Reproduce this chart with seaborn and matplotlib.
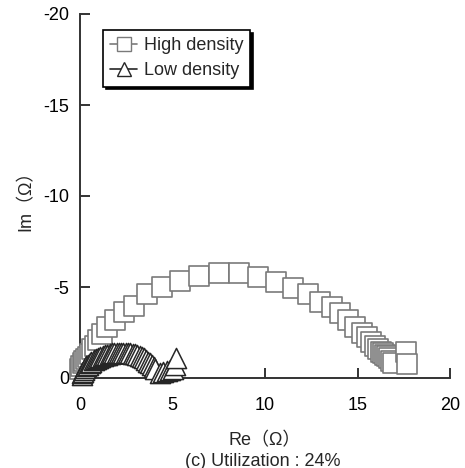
import numpy as np
import pandas as pd
import matplotlib
matplotlib.use("Agg")
import matplotlib.pyplot as plt
import seaborn as sns
from matplotlib.lines import Line2D

# --- data (Nyquist plot) ---
high_re = [0.0, 0.07, 0.15, 0.24, 0.33, 0.43, 0.52, 0.65, 0.79, 0.97, 1.19, 1.46,
           1.91, 2.36, 2.9, 3.62, 4.43, 5.41, 6.45, 7.5, 8.58, 9.64, 10.6, 11.5,
           12.3, 12.97, 13.6, 14.05, 14.5, 14.86, 15.22, 15.5, 15.71, 15.95, 16.13,
           16.27, 16.4, 16.5, 16.6, 16.7, 16.8, 16.9, 17.6, 17.7]
high_im = [-0.5, -0.65, -0.8, -0.93, -1.05, -1.17, -1.32, -1.58, -1.76, -2.07, -2.4, -2.78,
           -3.19, -3.64, -3.97, -4.6, -5.0, -5.33, -5.6, -5.75, -5.75, -5.57, -5.29, -4.96,
           -4.6, -4.2, -3.92, -3.55, -3.19, -2.82, -2.49, -2.23, -2.0, -1.78, -1.59,
           -1.45, -1.35, -1.27, -1.2, -1.1, -0.95, -0.85, -1.45, -0.77]

low_re = [0.1, 0.12, 0.15, 0.2, 0.26, 0.33, 0.42, 0.52, 0.62, 0.73, 0.85, 0.98, 1.1,
          1.22, 1.35, 1.48, 1.6, 1.72, 1.85, 1.98, 2.1, 2.22, 2.35, 2.48, 2.6, 2.72,
          2.85, 2.97, 3.1, 3.22, 3.35, 3.47, 3.58, 3.7, 3.8, 3.9, 3.98, 4.05,
          4.3, 4.5, 4.7, 4.85, 5.0, 5.15, 5.2]
low_im = [-0.15, -0.25, -0.35, -0.45, -0.55, -0.64, -0.73, -0.82, -0.9, -0.97, -1.04, -1.1, -1.15,
          -1.2, -1.25, -1.29, -1.32, -1.35, -1.37, -1.39, -1.4, -1.4, -1.4, -1.39, -1.38, -1.36,
          -1.33, -1.3, -1.26, -1.21, -1.15, -1.08, -1.0, -0.9, -0.8, -0.7, -0.6, -0.5,
          -0.3, -0.35, -0.4, -0.45, -0.5, -0.72, -1.1]

x_ticks = [0, 5, 10, 15, 20]
y_ticks = [0, -5, -10, -15, -20]

high_df = pd.DataFrame({"Re": high_re, "Im": high_im})
low_df = pd.DataFrame({"Re": low_re, "Im": low_im})

sns.set_style("ticks")
plt.rcParams["font.family"] = ["Liberation Sans", "Noto Sans CJK JP", "DejaVu Sans"]
plt.rcParams["axes.unicode_minus"] = False

sq_color = "#7a7a7a"
tri_color = "#262626"

fig = plt.figure(figsize=(4.65, 4.68), dpi=100)
ax = fig.add_axes([80 / 465, 90 / 468, 370 / 465, 364 / 468])

sns.scatterplot(data=high_df, x="Re", y="Im", marker="s", s=14 ** 2,
                facecolor="white", edgecolor=sq_color, linewidth=1.2,
                ax=ax, clip_on=False, zorder=3)
sns.scatterplot(data=low_df, x="Re", y="Im", marker="^", s=14.5 ** 2,
                facecolor="white", edgecolor=tri_color, linewidth=1.1,
                ax=ax, clip_on=False, zorder=4)

ax.set_xlim(0, 20)
ax.set_ylim(0, -20)
ax.set_xticks(x_ticks)
ax.set_yticks(y_ticks)
sns.despine(ax=ax)
for side in ["left", "bottom"]:
    ax.spines[side].set_linewidth(1.4)
    ax.spines[side].set_color("#333333")
ax.tick_params(axis="both", direction="in", length=7, width=1.4, color="#333333",
               labelsize=13, labelcolor="black")
ax.tick_params(axis="x", pad=14)
ax.tick_params(axis="y", pad=8)

ax.set_xlabel("Re（Ω）", fontsize=13, labelpad=13)
ax.set_ylabel("Im（Ω）", fontsize=13, labelpad=6)
fig.text(263 / 465, 1 - 461 / 468, "(c) Utilization : 24%", fontsize=13,
         ha="center", va="center")

handles = [
    Line2D([], [], color=sq_color, marker="s", markersize=10, markerfacecolor="white",
           markeredgecolor=sq_color, lw=1.2, label="High density"),
    Line2D([], [], color=tri_color, marker="^", markersize=10, markerfacecolor="white",
           markeredgecolor=tri_color, lw=1.2, label="Low density"),
]
leg = ax.legend(handles=handles, loc="upper left", bbox_to_anchor=(0.062, 0.956),
                borderaxespad=0, fontsize=13, fancybox=False, frameon=True,
                edgecolor="black", handlelength=1.5, handletextpad=0.35,
                labelspacing=0.45, borderpad=0.4,
                shadow={"color": "black", "alpha": 1})
leg.get_frame().set_linewidth(1.2)

fig.savefig("out.png", dpi=100)
